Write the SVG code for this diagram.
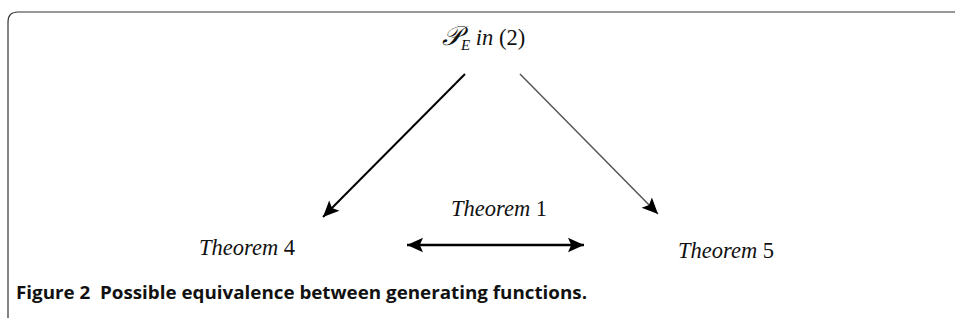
<svg xmlns="http://www.w3.org/2000/svg" width="955" height="320" viewBox="0 0 955 320">
<style>
.t{font-family:"Liberation Serif","Times New Roman",serif;font-size:22.5px;fill:#111}
.i{font-style:italic}
.cap{font-family:"Open Sans","Liberation Sans",sans-serif;font-weight:bold;font-size:18px;fill:#111}
</style>
<defs>
<marker id="ah" viewBox="0 0 10 10" refX="10" refY="5" markerWidth="19" markerHeight="16" markerUnits="userSpaceOnUse" orient="auto-start-reverse">
<path d="M0,0.5 L10,5 L0,9.5 L2,5 Z" fill="#000"/>
</marker>
</defs>
<g id="frame">
<path d="M955,12 H18 Q8,12 8,22 V318" fill="none" stroke="#333" stroke-width="1.2"/>
</g>
<g id="connectors">
<line x1="465" y1="74" x2="323" y2="217" stroke="#000" stroke-width="2" marker-end="url(#ah)"/>
<line x1="520" y1="74" x2="658" y2="214" stroke="#555" stroke-width="1.5" marker-end="url(#ah)"/>
<line x1="407" y1="245" x2="584" y2="245" stroke="#000" stroke-width="2.5" marker-start="url(#ah)" marker-end="url(#ah)"/>
</g>
<g id="nodeP">
<text class="t" x="442" y="45"><tspan class="i" font-size="27">𝒫</tspan><tspan class="i" font-size="15" dy="5">E</tspan><tspan class="i" dy="-5"> in</tspan> (2)</text>
</g>
<g id="nodeT1">
<text class="t" x="451" y="216"><tspan class="i">Theorem</tspan> 1</text>
</g>
<g id="nodeT4">
<text class="t" x="199" y="255"><tspan class="i">Theorem</tspan> 4</text>
</g>
<g id="nodeT5">
<text class="t" x="678" y="258"><tspan class="i">Theorem</tspan> 5</text>
</g>
<text class="cap" x="16" y="299" textLength="571" lengthAdjust="spacingAndGlyphs" xml:space="preserve">Figure 2  Possible equivalence between generating functions.</text>
</svg>
